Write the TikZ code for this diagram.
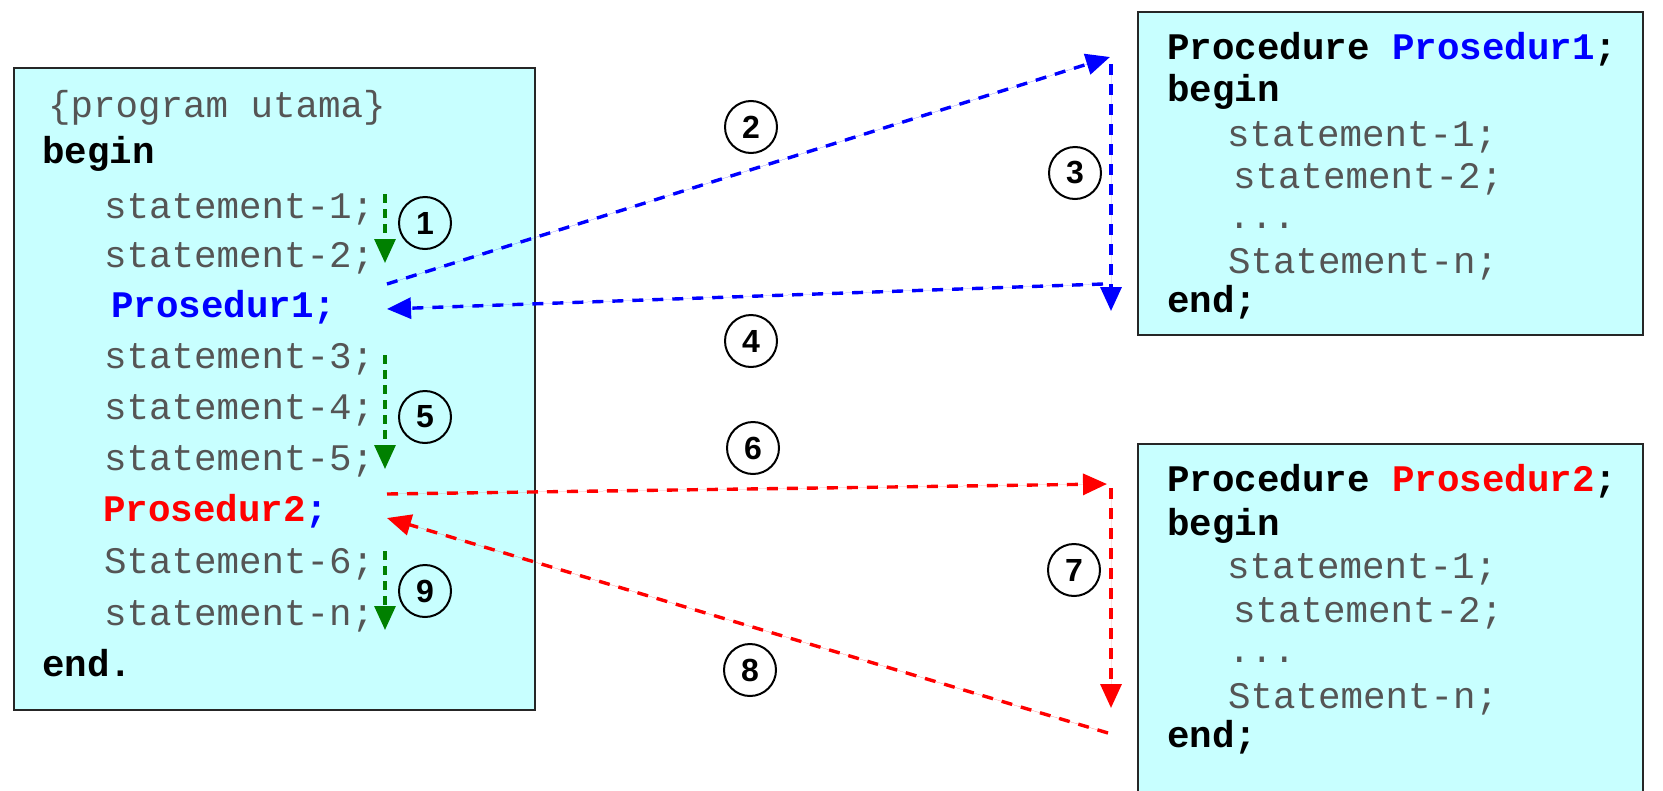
\documentclass[tikz,border=0pt]{standalone}
\usepackage{fontspec}
\setmonofont{Liberation Mono}
\setsansfont{Liberation Sans}
\usetikzlibrary{arrows.meta}
\definecolor{boxfill}{HTML}{C8FFFF}
\definecolor{stmt}{HTML}{555555}
\definecolor{dgreen}{HTML}{008000}
\definecolor{pblue}{HTML}{0000FF}
\definecolor{pred}{HTML}{FF0000}
\begin{document}
\begin{tikzpicture}[x=1pt,y=-1pt,
  codebox/.style={draw=black!85, line width=2.2pt, fill=boxfill, inner sep=0pt, anchor=north west},
  txt/.style={anchor=base west, inner sep=0pt, font=\ttfamily\fontsize{37.5}{40}\selectfont, text=stmt},
  kw/.style={anchor=base west, inner sep=0pt, font=\ttfamily\bfseries\fontsize{37.5}{40}\selectfont, text=black},
  num/.style={circle, draw=black, line width=2pt, minimum size=52pt, inner sep=0pt, font=\sffamily\bfseries\fontsize{32}{32}\selectfont},
  flow/.style={dash pattern=on 11pt off 9pt, line width=3.4pt, -{Triangle[length=24pt,width=21pt]}},
  gflow/.style={draw=dgreen, dash pattern=on 9pt off 6pt, line width=3.2pt, -{Triangle[length=24pt,width=21pt]}, dgreen},
]
\useasboundingbox (0,0) rectangle (1663,790);
\clip (0,0) rectangle (1663,790);
\fill[white] (0,0) rectangle (1663,790);

% boxes
\node[codebox, minimum width=521pt, minimum height=642pt] (main) at (12.7,66.8) {};
\node[codebox, minimum width=505pt, minimum height=323pt] (proc1) at (1137,10.6) {};
\node[codebox, minimum width=505pt, minimum height=400pt] (proc2) at (1137,443) {};

% main program text
\node[txt] (m0) at (48,117) {\{program utama\}};
\node[kw] (m1) at (42,163) {begin};
\node[txt] (m2) at (104,218) {statement-1;};
\node[txt] (m3) at (104,267) {statement-2;};
\node[kw, text=pblue] (m4) at (111,317) {Prosedur1;};
\node[txt] (m5) at (104,368) {statement-3;};
\node[txt] (m6) at (104,419) {statement-4;};
\node[txt] (m7) at (104,470) {statement-5;};
\node[kw, text=pred] (m8) at (103,521) {Prosedur2\textcolor{pblue}{;}};
\node[txt] (m9) at (104,573) {Statement-6;};
\node[txt] (m10) at (104,625) {statement-n;};
\node[kw] (m11) at (42,676) {end.};

% procedure 1 text
\node[kw] (a0) at (1167,59) {Procedure \textcolor{pblue}{Prosedur1};};
\node[kw] (a1) at (1167,101) {begin};
\node[txt] (a2) at (1227,146) {statement-1;};
\node[txt] (a3) at (1233,188) {statement-2;};
\node[txt] (a4) at (1228,228) {...};
\node[txt] (a5) at (1228,273) {Statement-n;};
\node[kw] (a6) at (1167,312) {end;};

% procedure 2 text
\node[kw] (b0) at (1167,491) {Procedure \textcolor{pred}{Prosedur2};};
\node[kw] (b1) at (1167,535) {begin};
\node[txt] (b2) at (1227,578) {statement-1;};
\node[txt] (b3) at (1233,622) {statement-2;};
\node[txt] (b4) at (1228,662) {...};
\node[txt] (b5) at (1228,708) {Statement-n;};
\node[kw] (b6) at (1167,747) {end;};

% connector end points
\coordinate (g1s) at (385,194);
\coordinate (g1e) at (385,263);
\coordinate (g5s) at (385,355);
\coordinate (g5e) at (385,469);
\coordinate (g9s) at (385,551);
\coordinate (g9e) at (385,630);
\coordinate (c2s) at (387,284);
\coordinate (c2e) at (1110,57);
\coordinate (c3s) at (1111,64);
\coordinate (c3e) at (1111,311);
\coordinate (c4s) at (1103,284);
\coordinate (c4e) at (387,309);
\coordinate (c6s) at (387,494);
\coordinate (c6e) at (1107,484);
\coordinate (c7s) at (1111,488);
\coordinate (c7e) at (1111,708);
\coordinate (c8s) at (1108,733);
\coordinate (c8e) at (387,518);

% green flows
\draw[gflow] (g1s) -- (g1e);
\draw[gflow] (g5s) -- (g5e);
\draw[gflow] (g9s) -- (g9e);

% blue flows
\draw[flow, draw=pblue, fill=pblue] (c2s) -- (c2e);
\draw[flow, draw=pblue, fill=pblue] (c3s) -- (c3e);
\draw[flow, draw=pblue, fill=pblue] (c4s) -- (c4e);

% red flows
\draw[flow, draw=pred, fill=pred] (c6s) -- (c6e);
\draw[flow, draw=pred, fill=pred] (c7s) -- (c7e);
\draw[flow, draw=pred, fill=pred] (c8s) -- (c8e);

% step numbers
\node[num] (n1) at (425,223) {1};
\node[num] (n2) at (751,127) {2};
\node[num] (n3) at (1075,173) {3};
\node[num] (n4) at (751,341) {4};
\node[num] (n5) at (425,417) {5};
\node[num] (n6) at (753,448) {6};
\node[num] (n7) at (1074,570) {7};
\node[num] (n8) at (750,670) {8};
\node[num] (n9) at (425,591) {9};
\end{tikzpicture}
\end{document}
